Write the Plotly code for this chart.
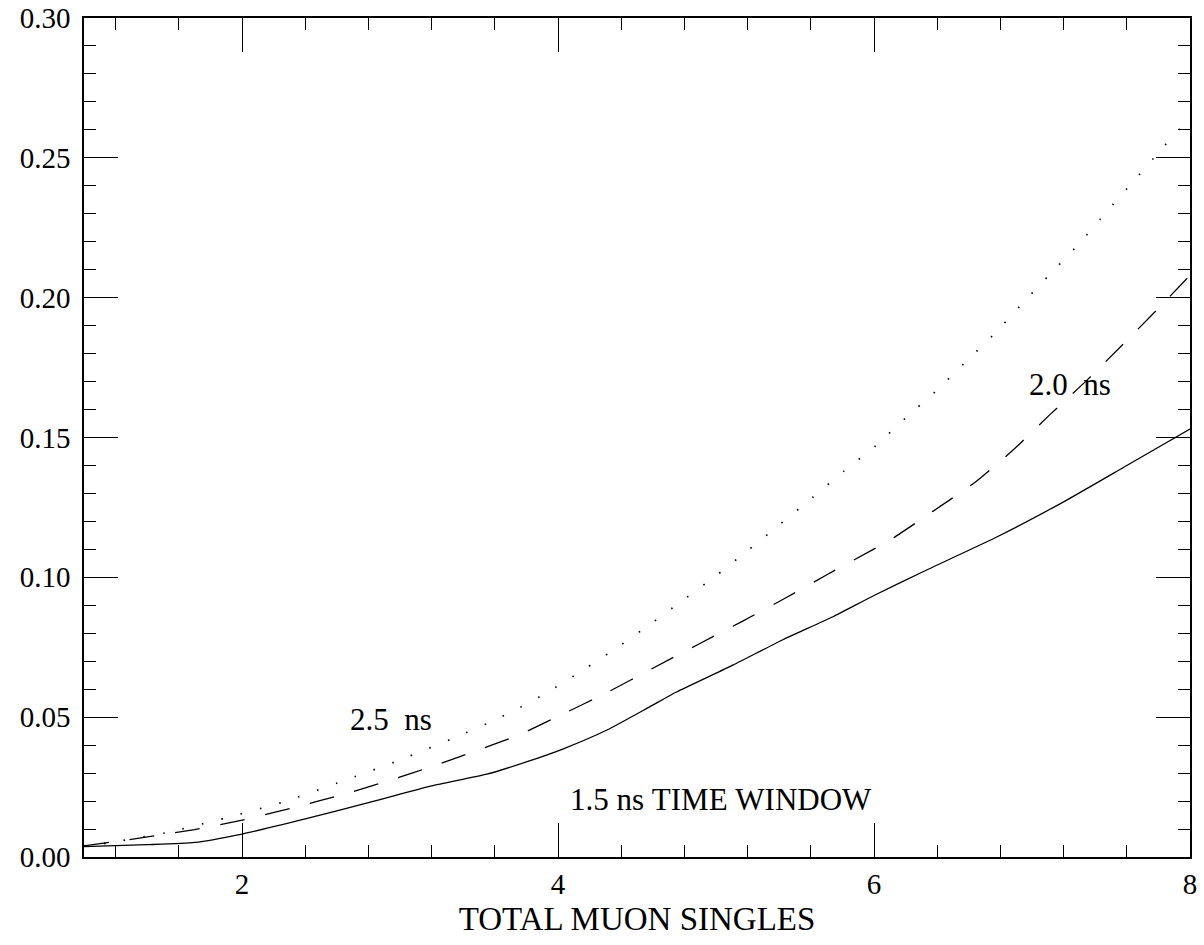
import plotly.graph_objects as go

# 1.5 ns time window (solid)
x_15 = [1.0, 1.4, 1.7, 2.0, 2.4, 2.8, 3.2, 3.55, 3.8, 4.03, 4.31, 4.58, 4.75, 5.11,
        5.42, 5.74, 6.0, 6.31, 6.78, 7.2, 7.6, 8.0]
y_15 = [0.0037, 0.0044, 0.0052, 0.0082, 0.0136, 0.0194, 0.0254, 0.0296, 0.0340, 0.0386,
        0.0454, 0.0537, 0.0590, 0.0687, 0.0776, 0.0859, 0.0935, 0.1020, 0.1145, 0.1270,
        0.1400, 0.1530]

# 2.0 ns (dashed)
x_20 = [1.0, 1.37, 1.70, 2.01, 2.32, 2.63, 2.93, 3.23, 3.53, 3.75, 4.03, 4.32, 4.60,
        4.88, 5.16, 5.44, 5.71, 5.99, 6.12, 6.37, 6.64, 6.88, 7.11, 7.35, 7.57, 7.79, 8.0]
y_20 = [0.0040, 0.0069, 0.0098, 0.0133, 0.0176, 0.0222, 0.0273, 0.0329, 0.0390, 0.0436,
        0.0511, 0.0591, 0.0675, 0.0758, 0.0841, 0.0926, 0.1012, 0.1098, 0.1140, 0.1235,
        0.1340, 0.1455, 0.1580, 0.1706, 0.1830, 0.1956, 0.2080]

# 2.5 ns (dotted)
x_25 = [1.0, 1.14, 1.52, 1.90, 2.27, 2.64, 3.0, 3.36, 3.60, 3.72, 3.94, 4.16, 4.38, 4.59,
        4.80, 5.01, 5.21, 5.41, 5.61, 5.81, 6.01, 6.20, 6.40, 6.58, 6.77, 6.94, 7.12,
        7.30, 7.47, 7.64, 7.81, 8.0]
y_25 = [0.0040, 0.0049, 0.0087, 0.0140, 0.0198, 0.0272, 0.0347, 0.0430, 0.0490, 0.0523,
        0.0591, 0.0669, 0.0751, 0.0835, 0.0922, 0.1010, 0.1100, 0.1192, 0.1285, 0.1380,
        0.1470, 0.1570, 0.1670, 0.1770, 0.1875, 0.1980, 0.2088, 0.2194, 0.2306, 0.2415,
        0.2525, 0.2645]

FONT = "Liberation Serif"

fig = go.Figure()
fig.add_trace(go.Scatter(x=x_15, y=y_15, mode="lines",
                         line=dict(color="black", width=1.3, shape="spline", smoothing=0.5),
                         showlegend=False))
fig.add_trace(go.Scatter(x=x_20, y=y_20, mode="lines",
                         line=dict(color="black", width=1.3, dash="25px,21px",
                                   shape="spline", smoothing=0.5), showlegend=False))
fig.add_trace(go.Scatter(x=x_25, y=y_25, mode="lines",
                         line=dict(color="black", width=1.7, dash="1.5px,18.5px",
                                   shape="spline", smoothing=0.5), showlegend=False))

ann_font = dict(family=FONT, size=31, color="black")
fig.add_annotation(x=2.94, y=0.049, text="2.5\u00a0\u00a0ns", showarrow=False, font=ann_font)
fig.add_annotation(x=7.24, y=0.169, text="2.0\u00a0\u00a0ns", showarrow=False, font=ann_font)
fig.add_annotation(x=5.03, y=0.0205, text="1.5\u00a0ns\u00a0TIME\u00a0WINDOW",
                   showarrow=False, font=ann_font)

fig.update_xaxes(range=[1, 8], tick0=0, dtick=2, ticks="inside", ticklen=34,
                 tickwidth=1.2, tickcolor="black", showline=True, linecolor="black",
                 linewidth=1.5, mirror="allticks", showgrid=False, zeroline=False,
                 automargin=False, ticklabeloverflow="allow",
                 tickfont=dict(family=FONT, size=29, color="black"),
                 minor=dict(tick0=0, dtick=0.4, ticks="inside", ticklen=12,
                            tickwidth=1.2, tickcolor="black", showgrid=False),
                 title=dict(text="TOTAL MUON SINGLES", standoff=8,
                            font=dict(family=FONT, size=33, color="black")))
fig.update_yaxes(range=[0, 0.3000001], tick0=0, dtick=0.05, tickformat=".2f",
                 ticks="inside", ticklen=34, tickwidth=1.2, tickcolor="black",
                 showline=True, linecolor="black", linewidth=1.5, mirror="allticks",
                 showgrid=False, zeroline=False, automargin=False,
                 ticklabelstandoff=6, ticklabeloverflow="allow",
                 tickfont=dict(family=FONT, size=29, color="black"),
                 minor=dict(tick0=0, dtick=0.01, ticks="inside", ticklen=12,
                            tickwidth=1.2, tickcolor="black", showgrid=False))

fig.update_layout(width=1204, height=945, plot_bgcolor="white", paper_bgcolor="white",
                  margin=dict(l=84, r=14, t=18, b=88))

# remove the default 8px body margin so the figure fills the window exactly
fig.write_html("out.html", config={"displayModeBar": False},
               post_script="document.body.style.margin='0';document.body.style.overflow='hidden';")
